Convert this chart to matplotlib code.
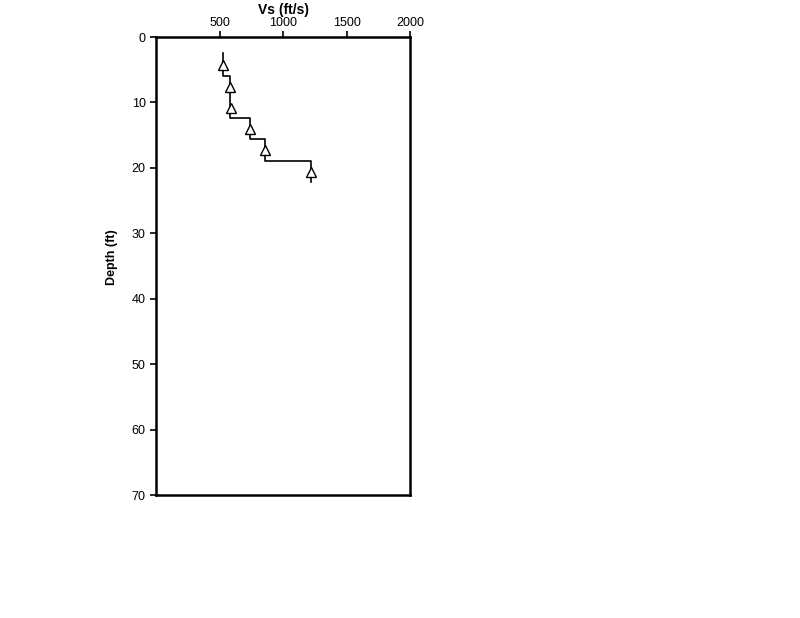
import matplotlib.pyplot as plt

plt.rcParams['font.family'] = ['Liberation Sans', 'DejaVu Sans']

# layered Vs profile (step line)
layer_vs = [526, 586, 737, 857, 1219]
layer_top = [2.5, 5.9, 12.4, 15.6, 19.0]
layer_bot = [5.9, 12.4, 15.6, 19.0, 22.1]

# measured points (triangles)
meas_vs = [526, 586, 591, 737, 857, 1219]
meas_depth = [4.2, 7.6, 10.8, 14.1, 17.3, 20.7]

x_ticks = [500, 1000, 1500, 2000]
y_ticks = [0, 10, 20, 30, 40, 50, 60, 70]

fig = plt.figure(figsize=(8, 6.18), dpi=100)
ax = fig.add_axes([0.195, 0.199, 0.3175, 0.741])

# build the step path from the layers
sx, sy = [], []
for v, t, b in zip(layer_vs, layer_top, layer_bot):
    sx += [v, v]
    sy += [t, b]
ax.plot(sx, sy, color='black', lw=1.2)
ax.plot(meas_vs, meas_depth, linestyle='none', marker='^', markersize=7,
        markerfacecolor='white', markeredgecolor='black', markeredgewidth=1.0)

ax.set_xlim(0, 2000)
ax.set_ylim(70, 0)
ax.xaxis.tick_top()
ax.xaxis.set_label_position('top')
ax.set_xticks(x_ticks)
ax.set_yticks(y_ticks)
ax.tick_params(axis='both', labelsize=9, length=4, width=1.2, direction='out')
ax.tick_params(axis='x', pad=2)
ax.set_xlabel('Vs (ft/s)', fontsize=10, fontweight='bold', labelpad=2)
ax.set_ylabel('Depth (ft)', fontsize=9, fontweight='bold')
ax.yaxis.set_label_coords(-0.15, 0.52)
for s in ax.spines.values():
    s.set_linewidth(1.8)

fig.savefig('out.png', dpi=100)
